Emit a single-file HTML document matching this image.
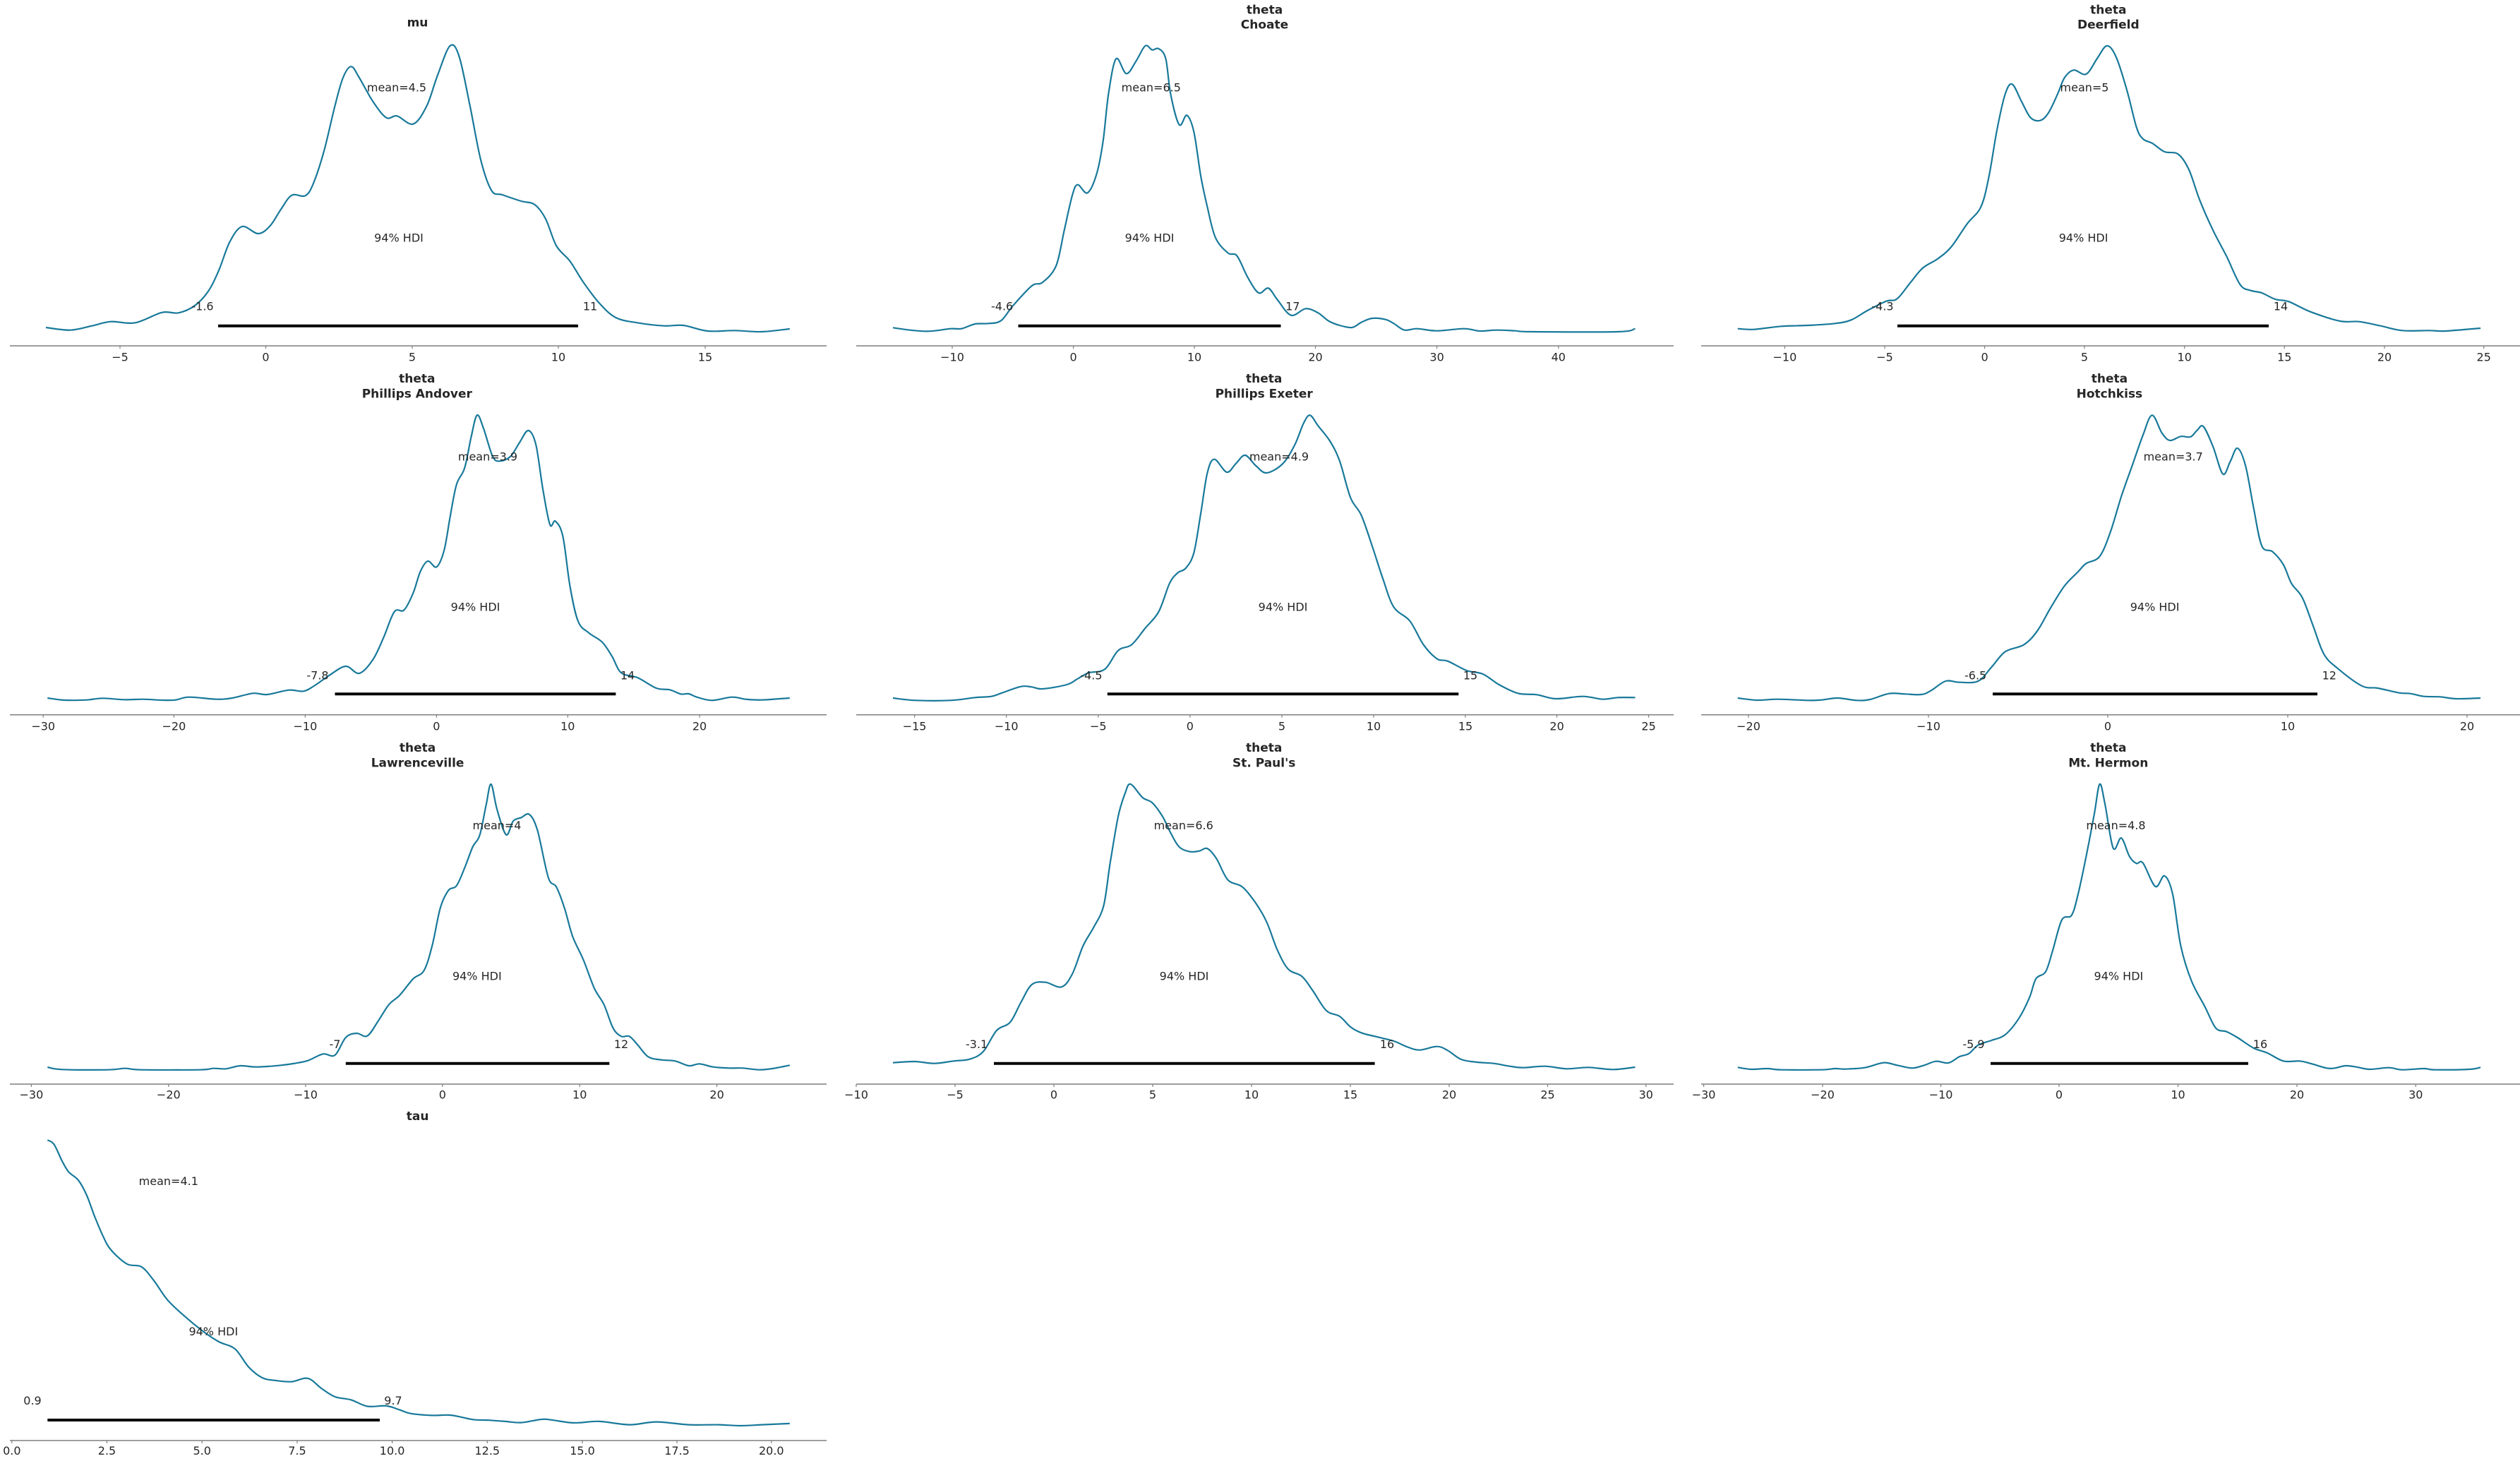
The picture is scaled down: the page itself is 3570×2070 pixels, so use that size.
<!DOCTYPE html>
<html><head><meta charset="utf-8">
<style>
html,body{margin:0;padding:0;background:#fff;}
svg{display:block;}
text{font-family:"DejaVu Sans","Liberation Sans",sans-serif;fill:#262626;font-size:16px;}
.t{font-weight:bold;font-size:17px;text-anchor:middle;}
.c{text-anchor:middle;}
</style></head><body>
<svg id="s" width="3570" height="2070" viewBox="0 0 3570 2070" xmlns="http://www.w3.org/2000/svg">
<rect width="3570" height="2070" fill="#fff"/>
<g id="g"></g>
<!-- Row 1 -->
<text class="t" x="591.5" y="37.7">mu</text>
<text class="c" x="562" y="129.3">mean=4.5</text>
<text class="c" x="565" y="342.3">94% HDI</text>
<text class="c" x="287" y="439.3">-1.6</text>
<text class="c" x="836" y="439.3">11</text>

<text class="t" x="1791.5" y="19.3">theta</text>
<text class="t" x="1791.5" y="40.7">Choate</text>
<text class="c" x="1630.8" y="129.3">mean=6.5</text>
<text class="c" x="1628.5" y="342.3">94% HDI</text>
<text class="c" x="1419.6" y="439.3">-4.6</text>
<text class="c" x="1831.3" y="439.3">17</text>

<text class="t" x="2986.8" y="19.3">theta</text>
<text class="t" x="2986.8" y="40.7">Deerfield</text>
<text class="c" x="2953" y="129.3">mean=5</text>
<text class="c" x="2951.6" y="342.3">94% HDI</text>
<text class="c" x="2667" y="439.3">-4.3</text>
<text class="c" x="3231" y="439.3">14</text>

<!-- Row 2 -->
<text class="t" x="590.8" y="542">theta</text>
<text class="t" x="590.8" y="563.3">Phillips Andover</text>
<text class="c" x="691" y="652.7">mean=3.9</text>
<text class="c" x="673.5" y="865.7">94% HDI</text>
<text class="c" x="450" y="962.7">-7.8</text>
<text class="c" x="889" y="962.7">14</text>

<text class="t" x="1790.7" y="542">theta</text>
<text class="t" x="1790.7" y="563.3">Phillips Exeter</text>
<text class="c" x="1812" y="652.7">mean=4.9</text>
<text class="c" x="1817.5" y="865.7">94% HDI</text>
<text class="c" x="1545.9" y="962.7">-4.5</text>
<text class="c" x="2083" y="962.7">15</text>

<text class="t" x="2988.4" y="542">theta</text>
<text class="t" x="2988.4" y="563.3">Hotchkiss</text>
<text class="c" x="3078.7" y="652.7">mean=3.7</text>
<text class="c" x="3052.6" y="865.7">94% HDI</text>
<text class="c" x="2798.6" y="962.7">-6.5</text>
<text class="c" x="3299.8" y="962.7">12</text>

<!-- Row 3 -->
<text class="t" x="591.6" y="1065">theta</text>
<text class="t" x="591.6" y="1086.7">Lawrenceville</text>
<text class="c" x="704" y="1175">mean=4</text>
<text class="c" x="675.8" y="1388.3">94% HDI</text>
<text class="c" x="474.5" y="1485">-7</text>
<text class="c" x="880" y="1485">12</text>

<text class="t" x="1790.7" y="1065">theta</text>
<text class="t" x="1790.7" y="1086.7">St. Paul's</text>
<text class="c" x="1676.7" y="1175">mean=6.6</text>
<text class="c" x="1677.5" y="1388.3">94% HDI</text>
<text class="c" x="1383.6" y="1485">-3.1</text>
<text class="c" x="1965" y="1485">16</text>

<text class="t" x="2986.8" y="1065">theta</text>
<text class="t" x="2986.8" y="1086.7">Mt. Hermon</text>
<text class="c" x="2997.5" y="1175">mean=4.8</text>
<text class="c" x="3001.4" y="1388.3">94% HDI</text>
<text class="c" x="2796" y="1485">-5.9</text>
<text class="c" x="3202" y="1485">16</text>

<!-- Row 4 -->
<text class="t" x="591.6" y="1587">tau</text>
<text class="c" x="238.8" y="1679">mean=4.1</text>
<text class="c" x="302.3" y="1892">94% HDI</text>
<text class="c" x="46" y="1990">0.9</text>
<text class="c" x="557" y="1990">9.7</text>

<!-- tick labels row1 -->
<g class="c">
<text class="c" x="170" y="511.7">−5</text>
<text class="c" x="376.5" y="511.7">0</text>
<text class="c" x="584" y="511.7">5</text>
<text class="c" x="791" y="511.7">10</text>
<text class="c" x="999" y="511.7">15</text>

<text class="c" x="1349" y="511.7">−10</text>
<text class="c" x="1520.6" y="511.7">0</text>
<text class="c" x="1692" y="511.7">10</text>
<text class="c" x="1863.5" y="511.7">20</text>
<text class="c" x="2035.6" y="511.7">30</text>
<text class="c" x="2207.8" y="511.7">40</text>

<text class="c" x="2528.4" y="511.7">−10</text>
<text class="c" x="2670" y="511.7">−5</text>
<text class="c" x="2811.6" y="511.7">0</text>
<text class="c" x="2953" y="511.7">5</text>
<text class="c" x="3094.7" y="511.7">10</text>
<text class="c" x="3236.3" y="511.7">15</text>
<text class="c" x="3378" y="511.7">20</text>
<text class="c" x="3518.7" y="511.7">25</text>

<!-- row2 -->
<text class="c" x="61.2" y="1034.3">−30</text>
<text class="c" x="246.4" y="1034.3">−20</text>
<text class="c" x="432.4" y="1034.3">−10</text>
<text class="c" x="618.4" y="1034.3">0</text>
<text class="c" x="804.3" y="1034.3">10</text>
<text class="c" x="991" y="1034.3">20</text>

<text class="c" x="1295.6" y="1034.3">−15</text>
<text class="c" x="1425.7" y="1034.3">−10</text>
<text class="c" x="1555.8" y="1034.3">−5</text>
<text class="c" x="1685.9" y="1034.3">0</text>
<text class="c" x="1816" y="1034.3">5</text>
<text class="c" x="1946" y="1034.3">10</text>
<text class="c" x="2076" y="1034.3">15</text>
<text class="c" x="2205.6" y="1034.3">20</text>
<text class="c" x="2335.6" y="1034.3">25</text>

<text class="c" x="2477" y="1034.3">−20</text>
<text class="c" x="2732" y="1034.3">−10</text>
<text class="c" x="2986" y="1034.3">0</text>
<text class="c" x="3241" y="1034.3">10</text>
<text class="c" x="3495" y="1034.3">20</text>

<!-- row3 -->
<text class="c" x="44.4" y="1556.7">−30</text>
<text class="c" x="238.8" y="1556.7">−20</text>
<text class="c" x="433" y="1556.7">−10</text>
<text class="c" x="626.8" y="1556.7">0</text>
<text class="c" x="821.2" y="1556.7">10</text>
<text class="c" x="1015.6" y="1556.7">20</text>

<text class="c" x="1213" y="1556.7">−10</text>
<text class="c" x="1353" y="1556.7">−5</text>
<text class="c" x="1493" y="1556.7">0</text>
<text class="c" x="1633" y="1556.7">5</text>
<text class="c" x="1773" y="1556.7">10</text>
<text class="c" x="1913" y="1556.7">15</text>
<text class="c" x="2053" y="1556.7">20</text>
<text class="c" x="2192.5" y="1556.7">25</text>
<text class="c" x="2331.8" y="1556.7">30</text>

<text class="c" x="2413.6" y="1556.7">−30</text>
<text class="c" x="2582" y="1556.7">−20</text>
<text class="c" x="2749.6" y="1556.7">−10</text>
<text class="c" x="2917" y="1556.7">0</text>
<text class="c" x="3085.5" y="1556.7">10</text>
<text class="c" x="3254" y="1556.7">20</text>
<text class="c" x="3422.3" y="1556.7">30</text>

<!-- row4 -->
<text class="c" x="16.8" y="2061">0.0</text>
<text class="c" x="151.5" y="2061">2.5</text>
<text class="c" x="286.2" y="2061">5.0</text>
<text class="c" x="421" y="2061">7.5</text>
<text class="c" x="555.6" y="2061">10.0</text>
<text class="c" x="690.3" y="2061">12.5</text>
<text class="c" x="825" y="2061">15.0</text>
<text class="c" x="959" y="2061">17.5</text>
<text class="c" x="1092.8" y="2061">20.0</text>
</g>
</svg>
<script>
(function(){
var NS="http://www.w3.org/2000/svg";
var g=document.getElementById("g");
function el(n,a){var e=document.createElementNS(NS,n);for(var k in a)e.setAttribute(k,a[k]);g.appendChild(e);return e;}
var FX=1/1.3067;
function curve(cx,cy,pts,fy){
  var FY=1/(fy||3);
  var P=pts.map(function(p){return [cx+p[0]*FX, cy+p[1]*FY];});
  var d="M"+P[0][0].toFixed(1)+" "+P[0][1].toFixed(1);
  for(var i=0;i<P.length-1;i++){
    var p0=P[i>0?i-1:i],p1=P[i],p2=P[i+1],p3=P[i+2<P.length?i+2:i+1];
    var c1=[p1[0]+(p2[0]-p0[0])/6,p1[1]+(p2[1]-p0[1])/6];
    var c2=[p2[0]-(p3[0]-p1[0])/6,p2[1]-(p3[1]-p1[1])/6];
    d+=" C"+c1[0].toFixed(1)+" "+c1[1].toFixed(1)+" "+c2[0].toFixed(1)+" "+c2[1].toFixed(1)+" "+p2[0].toFixed(1)+" "+p2[1].toFixed(1);
  }
  el("path",{d:d,fill:"none",stroke:"#18799a","stroke-width":"2.2","stroke-linejoin":"round"});
}
function axis(x1,x2,y,ticks){
  el("line",{x1:x1,x2:x2,y1:y,y2:y,stroke:"#7f7f7f","stroke-width":"1.5"});
  ticks.forEach(function(t){el("line",{x1:t,x2:t,y1:y,y2:y+4,stroke:"#7f7f7f","stroke-width":"1.2"});});
}
function bar(x1,x2,y){el("line",{x1:x1,x2:x2,y1:y,y2:y,stroke:"#000","stroke-width":"4"});}

axis(14,1171,490,[170,376.5,584,791,999]);
axis(1213,2371,490,[1349,1520.6,1692,1863.5,2035.6,2207.8]);
axis(2410,3570,490,[2528.4,2670,2811.6,2953,3094.7,3236.3,3378,3518.7]);
axis(14,1171,1012.7,[61.2,246.4,432.4,618.4,804.3,991]);
axis(1213,2371,1012.7,[1295.6,1425.7,1555.8,1685.9,1816,1946,2076,2205.6,2335.6]);
axis(2410,3570,1012.7,[2477,2732,2986,3241,3495]);
axis(14,1171,1536,[44.4,238.8,433,626.8,821.2,1015.6]);
axis(1213,2371,1536,[1213,1353,1493,1633,1773,1913,2053,2192.5,2331.8]);
axis(2410,3570,1536,[2413.6,2582,2749.6,2917,3085.5,3254,3422.3]);
axis(14,1171,2041,[16.8,151.5,286.2,421,555.6,690.3,825,959,1092.8]);

bar(309,819,461.7); bar(1442.5,1814.5,461.7); bar(2688,3214,461.7);
bar(474.5,872.4,983.3); bar(1568.8,2066.3,983.3); bar(2823,3283,983.3);
bar(489.8,863.3,1506.7); bar(1408,1947.6,1506.7); bar(2820,3185,1506.7);
bar(67.3,538,2012);

curve(0,0,[[85,1392],[130,1403],[170,1385],[205,1367],[250,1372],[300,1328],[330,1330],[360,1300],[385,1240],[405,1150],[425,1030],[448,963],[478,993],[500,960],[520,890],[540,830],[565,832],[580,780],[600,640],[620,450],[635,330],[650,283],[665,330],[690,430],[715,500],[735,493],[765,527],[790,450],[810,320],[833,195],[850,240],[870,450],[890,680],[910,810],[930,828],[965,855],[990,870],[1010,930],[1030,1045],[1055,1110],[1080,1200],[1110,1290],[1140,1350],[1180,1372],[1230,1385],[1265,1383],[1310,1407],[1360,1405],[1410,1410],[1462,1398]]);
curve(1190,0,[[98,1393],[130,1403],[165,1408],[205,1397],[225,1397],[250,1377],[275,1375],[298,1363],[320,1300],[355,1215],[375,1200],[400,1130],[415,980],[430,830],[440,785],[458,820],[475,740],[487,600],[497,400],[511,250],[530,313],[548,260],[565,195],[578,212],[590,207],[603,250],[612,400],[628,530],[642,490],[655,560],[668,750],[680,880],[695,1010],[718,1075],[735,1088],[755,1180],[775,1245],[793,1225],[810,1275],[835,1340],[862,1312],[885,1330],[905,1365],[925,1383],[948,1392],[965,1370],[985,1353],[1010,1358],[1025,1375],[1045,1403],[1068,1397],[1105,1406],[1155,1397],[1185,1407],[1215,1403],[1250,1406],[1280,1410],[1440,1410],[1472,1397]]);
curve(2370,0,[[120,1397],[150,1400],[200,1387],[250,1383],[300,1375],[330,1360],[360,1320],[395,1280],[415,1270],[440,1200],[462,1140],[490,1100],[515,1050],[545,950],[570,880],[585,750],[600,550],[615,400],[628,358],[645,430],[662,500],[680,512],[695,480],[712,400],[725,330],[742,298],[765,315],[785,250],[803,195],[820,240],[840,380],[858,540],[870,590],[888,610],[910,645],[935,655],[955,720],[975,850],[1000,980],[1025,1090],[1050,1210],[1070,1235],[1090,1245],[1115,1272],[1140,1282],[1180,1325],[1235,1365],[1270,1367],[1310,1385],[1350,1405],[1400,1405],[1430,1407],[1495,1395]]);
curve(0,520,[[88,1407],[120,1416],[160,1415],[190,1408],[230,1414],[265,1412],[300,1416],[325,1415],[350,1403],[400,1412],[430,1407],[468,1387],[495,1392],[535,1373],[562,1378],[585,1350],[610,1310],[640,1272],[665,1302],[690,1245],[710,1150],[730,1040],[748,1033],[765,960],[778,870],[792,825],[808,850],[822,780],[833,640],[845,500],[860,430],[872,300],[883,205],[895,260],[912,380],[925,400],[945,380],[962,320],[978,270],[992,330],[1005,520],[1018,670],[1028,655],[1042,720],[1055,930],[1070,1080],[1090,1130],[1115,1170],[1133,1230],[1150,1300],[1180,1320],[1215,1365],[1240,1372],[1260,1390],[1275,1389],[1290,1403],[1318,1417],[1355,1403],[1380,1412],[1410,1415],[1462,1407]]);
curve(1190,520,[[98,1407],[140,1417],[205,1417],[250,1405],[280,1400],[300,1385],[335,1358],[355,1360],[375,1368],[420,1350],[440,1325],[460,1300],[490,1285],[515,1205],[540,1180],[565,1110],[590,1040],[610,920],[625,875],[640,855],[655,790],[668,620],[680,450],[693,392],[716,447],[733,410],[750,375],[770,420],[790,450],[820,410],[842,330],[858,240],[870,205],[885,250],[907,315],[925,400],[945,555],[965,630],[985,760],[1005,900],[1025,1020],[1055,1080],[1080,1180],[1105,1240],[1125,1250],[1160,1290],[1190,1305],[1220,1350],[1255,1387],[1290,1393],[1325,1410],[1375,1400],[1412,1412],[1440,1405],[1472,1405]]);
curve(2370,520,[[120,1407],[155,1416],[195,1412],[250,1417],[275,1415],[305,1407],[340,1417],[365,1413],[400,1388],[430,1390],[460,1392],[478,1375],[505,1335],[530,1340],[565,1335],[590,1275],[615,1210],[650,1180],[675,1120],[700,1020],[725,930],[750,870],[765,835],[790,805],[810,700],[830,550],[850,420],[870,290],[887,205],[905,280],[920,312],[940,295],[958,297],[970,270],[982,253],[1000,340],[1018,455],[1032,400],[1045,345],[1060,420],[1075,600],[1090,760],[1110,785],[1130,840],[1145,920],[1165,980],[1185,1100],[1205,1220],[1230,1280],[1275,1355],[1305,1365],[1345,1385],[1365,1388],[1390,1400],[1420,1402],[1450,1410],[1495,1407]]);
curve(0,1040,[[88,1416],[115,1426],[200,1427],[232,1421],[260,1427],[370,1427],[395,1421],[418,1423],[445,1410],[475,1415],[520,1408],[545,1400],[570,1388],[598,1360],[620,1365],[640,1290],[660,1272],[680,1283],[700,1220],[720,1150],[740,1110],[765,1040],[785,1005],[800,900],[815,740],[830,665],[845,645],[860,570],[875,480],[888,430],[900,300],[909,213],[920,320],[937,428],[950,370],[965,355],[980,342],[995,410],[1015,610],[1030,650],[1045,740],[1060,860],[1080,960],[1100,1080],[1118,1150],[1135,1250],[1150,1285],[1165,1285],[1180,1320],[1200,1372],[1225,1385],[1250,1390],[1275,1410],[1295,1402],[1320,1415],[1350,1420],[1375,1420],[1405,1427],[1430,1422],[1462,1408]]);
curve(1190,1040,[[98,1397],[138,1392],[175,1400],[210,1390],[240,1382],[265,1350],[290,1260],[315,1225],[335,1140],[355,1065],[380,1055],[410,1075],[430,1020],[450,900],[470,820],[488,730],[500,550],[515,350],[528,250],[538,213],[560,270],[578,292],[597,350],[612,420],[628,480],[648,500],[665,497],[680,487],[697,530],[718,620],[745,650],[770,720],[790,800],[810,920],[830,1000],[855,1030],[875,1090],[900,1175],[925,1200],[945,1245],[965,1270],[990,1285],[1025,1305],[1050,1330],[1073,1343],[1105,1328],[1125,1345],[1150,1383],[1180,1395],[1210,1400],[1240,1412],[1265,1418],[1305,1412],[1345,1423],[1385,1417],[1430,1426],[1472,1416]]);
curve(2370,1040,[[120,1417],[145,1425],[175,1422],[200,1427],[275,1427],[300,1422],[318,1424],[355,1418],[390,1397],[415,1408],[443,1420],[465,1408],[487,1391],[510,1398],[530,1372],[548,1358],[565,1322],[590,1302],[615,1278],[640,1210],[660,1120],[672,1040],[690,1010],[703,920],[720,790],[738,770],[750,680],[765,520],[780,340],[790,213],[800,300],[815,485],[830,442],[845,520],[858,550],[870,548],[893,648],[910,603],[925,680],[940,900],[960,1050],[985,1160],[1005,1250],[1025,1265],[1045,1290],[1075,1335],[1100,1355],[1130,1390],[1160,1390],[1180,1400],[1210,1420],[1225,1420],[1245,1410],[1265,1415],[1290,1425],[1325,1418],[1350,1427],[1390,1422],[1410,1427],[1475,1425],[1495,1417]]);
curve(0,1540,[[88,222],[100,240],[115,310],[127,355],[145,390],[160,450],[175,540],[190,620],[205,680],[235,740],[262,752],[285,810],[310,890],[340,955],[375,1020],[405,1065],[435,1095],[460,1170],[485,1215],[510,1227],[540,1232],[570,1218],[595,1260],[620,1295],[650,1308],[680,1335],[715,1333],[740,1350],[760,1365],[800,1373],[835,1372],[875,1390],[905,1393],[935,1398],[965,1403],[1000,1390],[1015,1390],[1055,1403],[1075,1403],[1110,1398],[1165,1412],[1215,1400],[1275,1412],[1330,1412],[1370,1416],[1410,1412],[1462,1407]],2.95);
})();
</script>
</body></html>
